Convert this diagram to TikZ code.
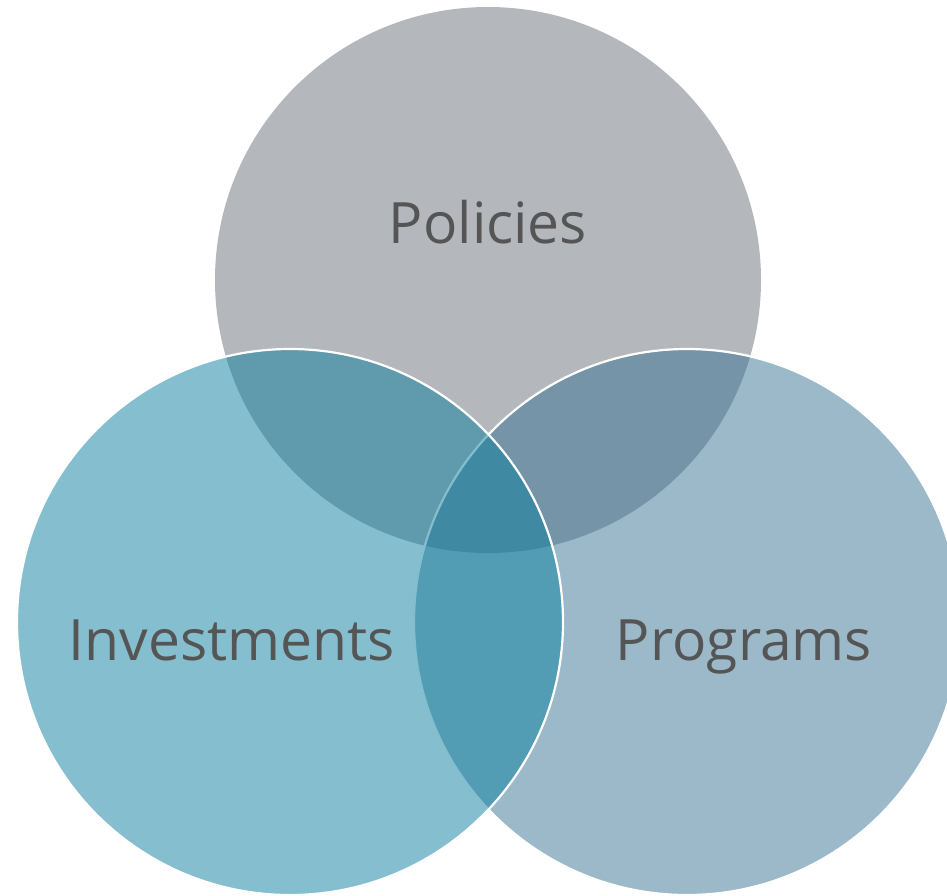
\documentclass[tikz,border=0pt]{standalone}
\usepackage{fontspec}
\setmainfont{Open Sans}
\definecolor{topgray}{RGB}{180,183,188}
\definecolor{leftblue}{RGB}{11,127,159}
\definecolor{rightblue}{RGB}{55,115,147}
\definecolor{labelgray}{RGB}{85,85,85}
\begin{document}
\begin{tikzpicture}[x=1pt,y=-1pt,
  lbl/.style={text=labelgray,font=\fontsize{57}{60}\selectfont,anchor=base,inner sep=0pt},
  ring/.style={draw=white,line width=2.2pt}]
\clip (0,0) rectangle (947,895);
\useasboundingbox (0,0) rectangle (947,895);
\fill[topgray] (488,280) circle[radius=273];
\fill[rightblue,fill opacity=0.5] (687,622) circle[radius=273];
\draw[ring] (687,622) circle[radius=273];
\fill[leftblue,fill opacity=0.5] (290,622) circle[radius=273];
\draw[ring] (290,622) circle[radius=273];
\node[lbl] (pol) at (488,243) {Policies};
\node[lbl] (inv) at (232,660) {Investments};
\node[lbl] (pro) at (744,660) {Programs};
\end{tikzpicture}
\end{document}
